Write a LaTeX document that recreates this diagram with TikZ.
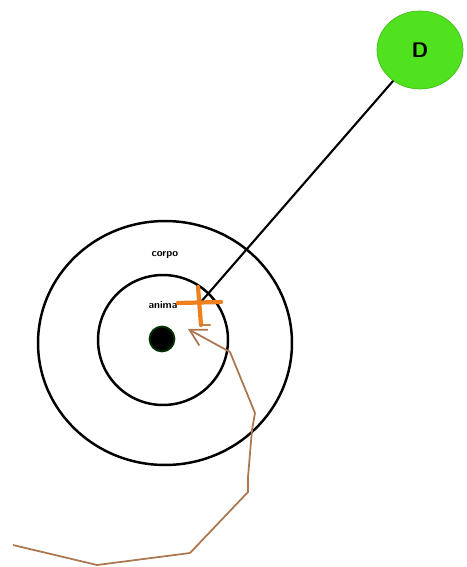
\documentclass[tikz,border=0pt]{standalone}
\usepackage{tikz}
\usetikzlibrary{arrows.meta,shapes.geometric}
\definecolor{SoulGreen}{RGB}{80,226,30}
\definecolor{SoulOrange}{RGB}{240,128,30}
\definecolor{SoulTrail}{RGB}{172,118,78}

\begin{document}
\begin{tikzpicture}[
  x=0.02cm,y=-0.02cm,
  ring/.style={draw,line width=1.4pt,inner sep=0pt},
  lbl/.style={font=\sffamily\bfseries\fontsize{6}{7}\selectfont,inner sep=0pt},
  cutmark/.style={draw=SoulOrange,line width=2.4pt,line cap=round},
  trail/.style={draw=SoulTrail,line width=1pt,line join=round,
    -{Straight Barb[length=3.2mm,width=3.6mm]}}
]
  \useasboundingbox (0,0) rectangle (466,567);
  % rings
  \node[ring,ellipse,minimum width=5.08cm,minimum height=4.88cm] (corpo) at (165,343) {};
  \node[ring,circle,minimum size=2.6cm] (anima) at (163,340) {};
  \node[circle,fill=black,draw=black!80!green,line width=1pt,minimum size=0.5cm] (core) at (162,339) {};
  \node[lbl] (corpolbl) at (165,255) {corpo};
  \node[lbl] (animalbl) at (163,305) {anima};
  % far point
  \node[ellipse,fill=SoulGreen,draw=SoulGreen!85!black,minimum width=1.72cm,minimum height=1.56cm,
    font=\sffamily\bfseries\large] (D) at (420,50) {D};
  \coordinate (cross) at (200,303);
  \draw[line width=1.2pt] (D) -- (cross);
  \draw[cutmark] (cross) ++(-22,0) -- ++(43,-1);
  \draw[cutmark] (cross) ++(-2,-16) -- ++(3,38);
  \draw[cutmark,line width=1.2pt,draw=SoulOrange!60!gray] (cross) ++(0,22) -- ++(10,0);
  % path
  \coordinate (tip) at (188,329);
  \draw[trail] (13,545) -- (97,565) -- (190,553) -- (248,492) -- (248,477)
    -- (252,430) -- (255,413) -- (230,352) -- (tip);
\end{tikzpicture}
\end{document}
